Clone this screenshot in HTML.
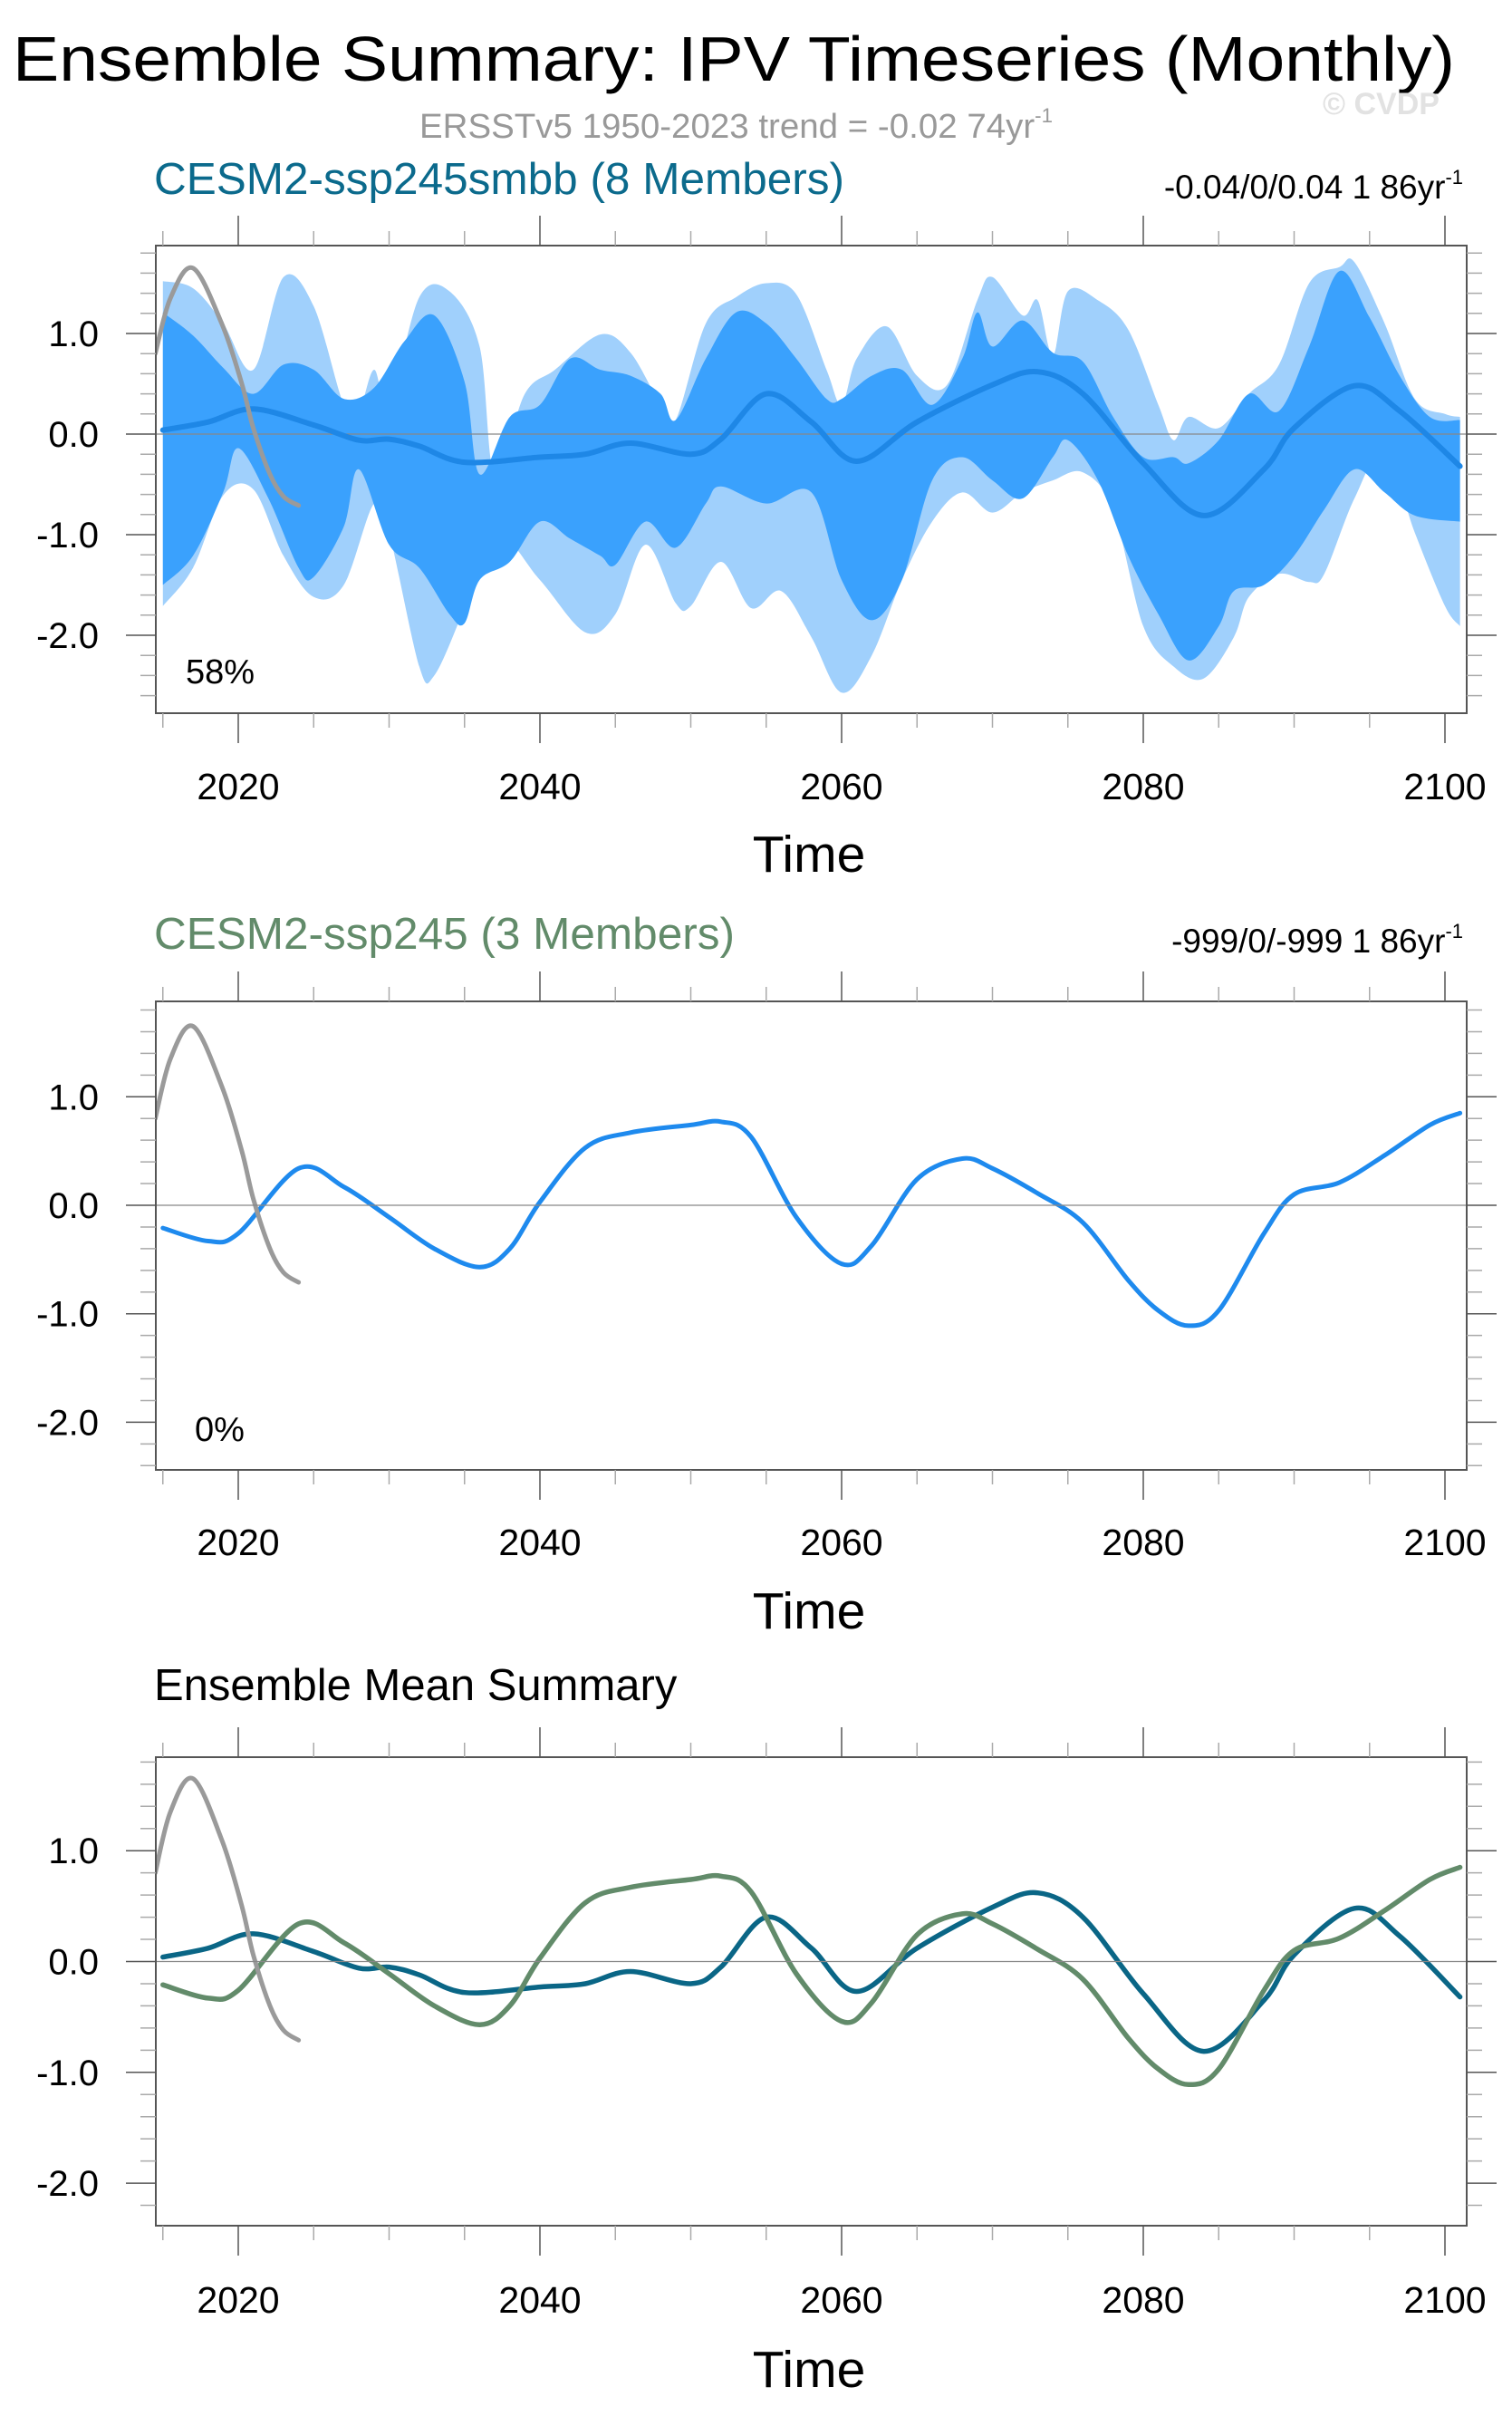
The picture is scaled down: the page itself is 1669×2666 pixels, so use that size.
<!DOCTYPE html>
<html><head><meta charset="utf-8"><style>
html,body{margin:0;padding:0;background:#fff}
svg{display:block}
text{font-family:"Liberation Sans",Arial,sans-serif}
</style></head><body>
<svg id="chart" width="1669" height="2666" viewBox="0 0 1669 2666" xmlns="http://www.w3.org/2000/svg">
<text x="14" y="89" font-size="70" textLength="1592" lengthAdjust="spacingAndGlyphs" fill="#000">Ensemble Summary: IPV Timeseries (Monthly)</text>
<text x="463" y="152" font-size="38" textLength="699" lengthAdjust="spacingAndGlyphs" fill="#999">ERSSTv5 1950-2023 trend = -0.02 74yr<tspan font-size="22" dy="-17">-1</tspan></text>
<text x="1460" y="126" font-size="34" font-weight="bold" fill="#e2e2e2">© CVDP</text>
<text x="170" y="214" font-size="49.5" fill="#0b6a8c">CESM2-ssp245smbb (8 Members)</text>
<text x="1615" y="219" font-size="37" text-anchor="end" fill="#000">-0.04/0/0.04 1 86yr<tspan font-size="22" dy="-16">-1</tspan></text>
<text x="170" y="1047" font-size="49.5" fill="#628b6a">CESM2-ssp245 (3 Members)</text>
<text x="1615" y="1051" font-size="37" text-anchor="end" fill="#000">-999/0/-999 1 86yr<tspan font-size="22" dy="-16">-1</tspan></text>
<text x="170" y="1876" font-size="49" fill="#000">Ensemble Mean Summary</text>
<g id="plots"></g>
</svg>
<script>
// ---- data ----
const xTickYears = [2020, 2040, 2060, 2080, 2100];
const yTickValues = [1, 0, -1, -2];
const yTickLabels = ["1.0", "0.0", "-1.0", "-2.0"];

const obsYears = [2014.5, 2015.5, 2017, 2018.9, 2020.2, 2021, 2022.1, 2023, 2024];
const obsValues = [0.8, 1.35, 1.65, 1.1, 0.52, 0.06, -0.4, -0.62, -0.71];

const meanYears = [2015, 2018, 2021, 2025, 2028, 2030, 2032, 2035, 2040, 2043, 2046, 2050, 2052, 2055, 2058, 2061, 2065, 2070, 2073, 2076, 2080, 2084, 2088, 2090, 2094, 2097, 2101];
const meanValues = [0.04, 0.12, 0.25, 0.09, -0.06, -0.05, -0.12, -0.28, -0.23, -0.2, -0.09, -0.2, -0.05, 0.4, 0.12, -0.27, 0.12, 0.49, 0.62, 0.4, -0.29, -0.81, -0.35, 0.06, 0.48, 0.23, -0.32];

const ssp245Years = [2015, 2018, 2020, 2024, 2027, 2030, 2033, 2036, 2038, 2040, 2043, 2046, 2050, 2052, 2054, 2057, 2060, 2062, 2065, 2068, 2070, 2073, 2076, 2079, 2081, 2083, 2085, 2088, 2090, 2093, 2096, 2099, 2101];
const ssp245Values = [-0.21, -0.33, -0.26, 0.34, 0.17, -0.11, -0.4, -0.57, -0.4, 0.03, 0.53, 0.67, 0.74, 0.77, 0.63, -0.11, -0.54, -0.37, 0.24, 0.43, 0.34, 0.11, -0.16, -0.69, -0.97, -1.11, -0.97, -0.26, 0.1, 0.21, 0.46, 0.74, 0.85];

const lightUpYears = [2015, 2017, 2019, 2021, 2023, 2025, 2027, 2028, 2029, 2030, 2032, 2034, 2036, 2037, 2039, 2041, 2044, 2046, 2048, 2049, 2051, 2053, 2055, 2057, 2059, 2060, 2061, 2063, 2065, 2067, 2069, 2070, 2072, 2073, 2074, 2075, 2077, 2079, 2081, 2082, 2083, 2085, 2087, 2089, 2091, 2093, 2094, 2096, 2098, 2100, 2101];
const lightUpValues = [1.52, 1.45, 1.1, 0.64, 1.56, 1.27, 0.29, 0.23, 0.64, 0.29, 1.36, 1.42, 0.87, -0.4, 0.4, 0.64, 0.99, 0.81, 0.29, 0.14, 1.1, 1.36, 1.5, 1.39, 0.64, 0.29, 0.75, 1.07, 0.58, 0.49, 1.33, 1.56, 1.18, 1.33, 0.78, 1.42, 1.33, 1.04, 0.29, -0.06, 0.17, 0.06, 0.4, 0.69, 1.5, 1.66, 1.71, 1.1, 0.35, 0.2, 0.17];
const lightLoYears = [2015, 2017, 2019, 2021, 2023, 2025, 2027, 2029, 2030, 2032, 2033, 2035, 2037, 2040, 2043, 2045, 2047, 2049, 2050, 2052, 2054, 2056, 2058, 2060, 2062, 2064, 2066, 2068, 2070, 2072, 2074, 2076, 2078, 2080, 2082, 2084, 2086, 2087, 2089, 2091, 2092, 2094, 2096, 2098, 2100, 2101];
const lightLoValues = [-1.71, -1.33, -0.61, -0.55, -1.21, -1.62, -1.5, -0.69, -0.98, -2.31, -2.4, -1.73, -0.98, -1.45, -1.97, -1.79, -1.1, -1.68, -1.71, -1.27, -1.73, -1.56, -2.02, -2.57, -2.2, -1.45, -0.87, -0.58, -0.78, -0.58, -0.46, -0.38, -0.75, -1.91, -2.31, -2.43, -2.02, -1.62, -1.39, -1.47, -1.39, -0.64, -0.17, -0.98, -1.71, -1.91];
const darkUpYears = [2015, 2017, 2019, 2021, 2023, 2025, 2027, 2029, 2031, 2033, 2035, 2036, 2038, 2040, 2042, 2044, 2046, 2048, 2049, 2051, 2053, 2055, 2057, 2059, 2060, 2062, 2064, 2066, 2068, 2069, 2070, 2072, 2074, 2076, 2078, 2080, 2082, 2083, 2085, 2087, 2089, 2091, 2093, 2095, 2097, 2099, 2101];
const darkUpValues = [1.21, 0.98, 0.66, 0.4, 0.69, 0.64, 0.35, 0.46, 0.92, 1.18, 0.52, -0.4, 0.17, 0.29, 0.75, 0.64, 0.58, 0.4, 0.14, 0.75, 1.21, 1.1, 0.75, 0.35, 0.35, 0.58, 0.64, 0.29, 0.75, 1.21, 0.87, 1.13, 0.81, 0.72, 0.17, -0.23, -0.23, -0.29, -0.06, 0.4, 0.23, 0.87, 1.62, 1.16, 0.58, 0.17, 0.14];
const darkLoYears = [2015, 2017, 2019, 2020, 2022, 2024, 2025, 2027, 2028, 2030, 2032, 2034, 2035, 2036, 2038, 2040, 2042, 2044, 2045, 2047, 2049, 2051, 2052, 2055, 2058, 2060, 2062, 2064, 2066, 2068, 2070, 2072, 2074, 2075, 2077, 2079, 2081, 2083, 2085, 2086, 2088, 2090, 2092, 2094, 2096, 2098, 2101];
const darkLoValues = [-1.5, -1.21, -0.58, -0.14, -0.64, -1.33, -1.42, -0.92, -0.35, -1.1, -1.33, -1.79, -1.88, -1.45, -1.27, -0.87, -1.04, -1.21, -1.3, -0.87, -1.13, -0.69, -0.52, -0.69, -0.58, -1.45, -1.85, -1.45, -0.46, -0.23, -0.46, -0.64, -0.23, -0.06, -0.46, -1.21, -1.79, -2.25, -1.91, -1.56, -1.5, -1.21, -0.75, -0.35, -0.58, -0.81, -0.87];

// ---- layout ----
const NS = "http://www.w3.org/2000/svg";
const BOX_L = 172, BOX_R = 1619;
function xScale(yr) { return 263 + (yr - 2020) * 16.65; }
const panels = [
  {top: 271, bottom: 787, y0: 479, unit: 111, pct: "58%", pctY: 754, tickLabY: 882, timeY: 962},
  {top: 1105, bottom: 1622, y0: 1330, unit: 119.7, pct: "0%", pctY: 1590, tickLabY: 1716, timeY: 1797},
  {top: 1939, bottom: 2456, y0: 2164.5, unit: 122.3, pct: null, tickLabY: 2552, timeY: 2634}
];
const root = document.getElementById("plots");
function mk(tag, attrs, parent) {
  const e = document.createElementNS(NS, tag);
  for (const k in attrs) e.setAttribute(k, attrs[k]);
  (parent || root).appendChild(e);
  return e;
}
function pts(years, vals, ys) { return years.map((y, i) => [xScale(y), ys(vals[i])]); }
function smoothSegs(p) {
  let d = "";
  for (let i = 0; i < p.length - 1; i++) {
    const p0 = p[Math.max(i - 1, 0)], p1 = p[i], p2 = p[i + 1], p3 = p[Math.min(i + 2, p.length - 1)];
    const c1 = [p1[0] + (p2[0] - p0[0]) / 6, p1[1] + (p2[1] - p0[1]) / 6];
    const c2 = [p2[0] - (p3[0] - p1[0]) / 6, p2[1] - (p3[1] - p1[1]) / 6];
    d += "C" + c1.map(v => v.toFixed(1)).join(",") + " " + c2.map(v => v.toFixed(1)).join(",") + " " + p2[0].toFixed(1) + "," + p2[1].toFixed(1);
  }
  return d;
}
function smoothPath(p) { return "M" + p[0][0].toFixed(1) + "," + p[0][1].toFixed(1) + smoothSegs(p); }
function band(upY, upV, loY, loV, ys, color, name, g) {
  const up = pts(upY, upV, ys), lo = pts(loY, loV, ys).reverse();
  const d = smoothPath(up) + "L" + lo[0][0].toFixed(1) + "," + lo[0][1].toFixed(1) + smoothSegs(lo) + "Z";
  const e = mk("path", {d: d, fill: color}, g);
  
  
}
function line(years, vals, ys, color, w, name, g) {
  const e = mk("path", {d: smoothPath(pts(years, vals, ys)), fill: "none", stroke: color, "stroke-width": w, "stroke-linecap": "round", "stroke-linejoin": "round"}, g);
  
  
}

panels.forEach((P, idx) => {
  const ys = v => P.y0 - v * P.unit;
  const g = mk("g", {});
  
  
  const clipId = "clip" + idx;
  const cp = mk("clipPath", {id: clipId}, g);
  mk("rect", {x: BOX_L, y: P.top, width: BOX_R - BOX_L, height: P.bottom - P.top}, cp);
  const data = mk("g", {"clip-path": "url(#" + clipId + ")"}, g);
  const z = mk("line", {x1: BOX_L, x2: BOX_R, y1: ys(0), y2: ys(0), stroke: "#888", "stroke-width": 1.3}, g);
  
  
  if (idx === 0) {
    band(lightUpYears, lightUpValues, lightLoYears, lightLoValues, ys, "#a0d0fc", "range-band-light", data);
    band(darkUpYears, darkUpValues, darkLoYears, darkLoValues, ys, "#3aa1fd", "range-band-dark", data);
    data.appendChild(z);
    line(meanYears, meanValues, ys, "#1e87e6", 6, "ensemble-mean-line", data);
  } else if (idx === 1) {
    line(ssp245Years, ssp245Values, ys, "#1e8aee", 5, "ssp245-mean-line", data);
  } else {
    line(meanYears, meanValues, ys, "#0a6686", 5.5, "ssp245smbb-mean-line", data);
    line(ssp245Years, ssp245Values, ys, "#628b6a", 5.5, "ssp245-mean-line", data);
  }
  line(obsYears, obsValues, ys, "#9a9a9a", 5, "observed-ipv-line", data);
  const b = mk("rect", {x: BOX_L, y: P.top, width: BOX_R - BOX_L, height: P.bottom - P.top, fill: "none", stroke: "#555", "stroke-width": 2}, g);
  
  
  for (let yr = 2015; yr <= 2100; yr += 5) {
    const major = yr % 20 === 0, x = xScale(yr), L = major ? 33 : 16;
    const col = major ? "#555" : "#aaa";
    mk("line", {x1: x, x2: x, y1: P.top, y2: P.top - L, stroke: col, "stroke-width": 1.5}, g);
    mk("line", {x1: x, x2: x, y1: P.bottom, y2: P.bottom + L, stroke: col, "stroke-width": 1.5}, g);
  }
  xTickYears.forEach(yr => {
    const t = mk("text", {x: xScale(yr), y: P.tickLabY, "font-size": 41, "text-anchor": "middle", fill: "#000"}, g);
    t.textContent = yr;
    
    
  });
  const tt = mk("text", {x: 893, y: P.timeY, "font-size": 57, "text-anchor": "middle", fill: "#000"}, g);
  tt.textContent = "Time";
  
  
  const vmax = (P.y0 - P.top) / P.unit, vmin = -(P.bottom - P.y0) / P.unit;
  for (let k = Math.ceil(vmin * 5 - 1e-6); k <= Math.floor(vmax * 5 + 1e-6); k++) {
    const v = k / 5, y = ys(v), major = k % 5 === 0, L = major ? 33 : 17;
    const col = major ? "#555" : "#aaa";
    mk("line", {x1: BOX_L, x2: BOX_L - L, y1: y, y2: y, stroke: col, "stroke-width": 1.5}, g);
    mk("line", {x1: BOX_R, x2: BOX_R + L, y1: y, y2: y, stroke: col, "stroke-width": 1.5}, g);
  }
  yTickValues.forEach((v, i) => {
    const t = mk("text", {x: 109, y: ys(v) + 14, "font-size": 40, "text-anchor": "end", fill: "#000"}, g);
    t.textContent = yTickLabels[i];
    
    
  });
  if (P.pct) {
    const t = mk("text", {x: idx === 0 ? 205 : 215, y: P.pctY, "font-size": 38, fill: "#000"}, g);
    t.textContent = P.pct;
    
    
  }
});
</script>
</body></html>
